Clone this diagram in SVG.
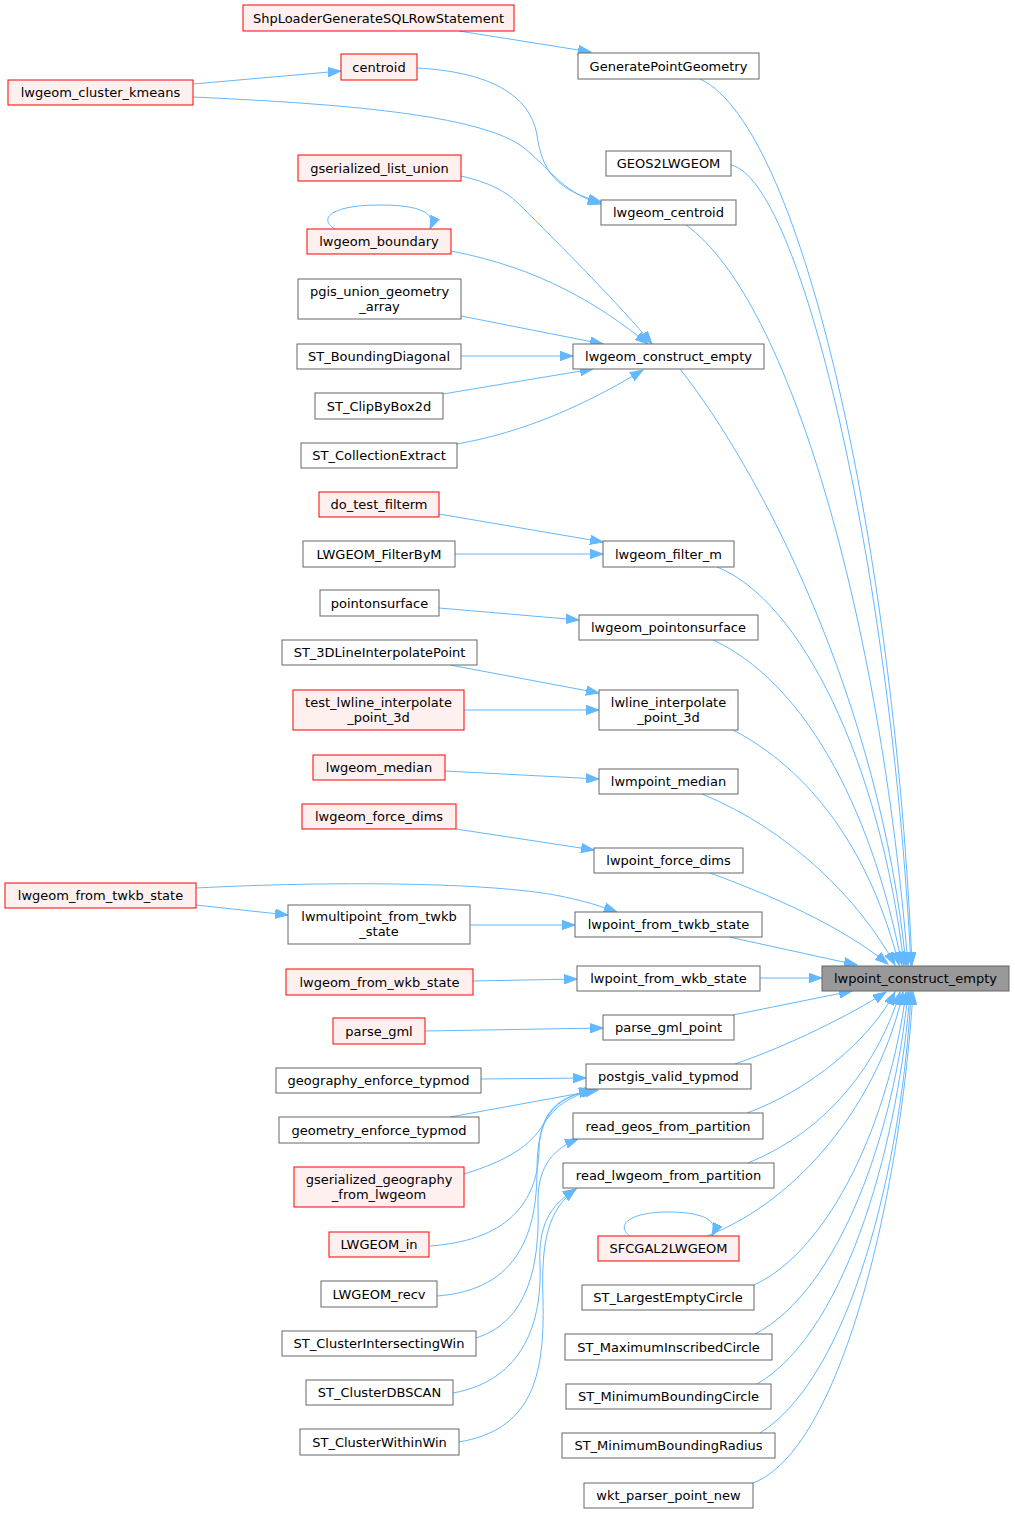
<svg xmlns="http://www.w3.org/2000/svg" width="1015" height="1513" viewBox="0 0 1015 1513">
<style>
rect{stroke-width:1}
.n rect{fill:#ffffff;stroke:#666666}
.r rect{fill:#fff0f0;stroke:#ff0000}
.root rect{fill:#999999;stroke:#666666}
text{font-family:"DejaVu Sans","Liberation Sans",sans-serif;font-size:13px;fill:#000000;text-anchor:middle}
#edges path{fill:none;stroke:#63b8ff;stroke-width:1;marker-end:url(#arr)}
</style>
<defs>
<marker id="arr" markerWidth="14" markerHeight="10" refX="13" refY="5" orient="auto" markerUnits="userSpaceOnUse">
<path d="M0,0.3 L13,5 L0,9.7 Z" fill="#63b8ff" stroke="#63b8ff" stroke-width="1"/>
</marker>
</defs>
<rect width="1015" height="1513" fill="#ffffff"/>
<g id="edges">
<path d="M459,31 L591,52"/>
<path d="M193,84 L341,71"/>
<path d="M193,97 C320,103 470,112 520,145 C548,165 560,192 601,204"/>
<path d="M417,68 C490,72 530,95 537,135 C542,170 555,190 601,202"/>
<path d="M461,176 C490,183 505,190 522,207 C560,245 620,305 652,344"/>
<path d="M335,229 C318,219 330,205 380,205 C420,205 437,213 430,229"/>
<path d="M451,251 C540,268 600,305 648,344"/>
<path d="M461,316 L603,344"/>
<path d="M461,356 L573,356"/>
<path d="M443,394 L593,369"/>
<path d="M457,444 C525,432 585,405 643,370"/>
<path d="M439,514 L603,542"/>
<path d="M455,554 L603,554"/>
<path d="M439,608 L579,620"/>
<path d="M450,665 L599,693"/>
<path d="M464,710 L599,710"/>
<path d="M445,771 L599,779"/>
<path d="M456,829 L594,850"/>
<path d="M196,888 C330,881 490,882 560,896 C585,901 600,906 617,912"/>
<path d="M196,905 L288,915"/>
<path d="M470,925 L575,925"/>
<path d="M473,981 L577,979"/>
<path d="M425,1031 L603,1028"/>
<path d="M481,1079 L586,1078"/>
<path d="M450,1117 L598,1090"/>
<path d="M464,1174 C510,1160 530,1145 543,1125 C553,1108 570,1095 595,1090"/>
<path d="M430,1246 C515,1240 538,1195 539,1150 C540,1110 560,1096 593,1090"/>
<path d="M437,1296 C520,1290 537,1230 537,1170 C537,1115 555,1098 592,1090"/>
<path d="M476,1338 C528,1322 540,1265 538,1205 C537,1170 550,1150 578,1139"/>
<path d="M453,1393 C525,1380 542,1320 540,1265 C538,1225 550,1205 576,1189"/>
<path d="M459,1442 C530,1430 545,1380 543,1300 C541,1240 548,1210 576,1189"/>
<path d="M630,1236 C615,1225 630,1212 668,1212 C702,1212 720,1220 712,1236"/>
<path d="M700,79 C805,128 895,560 912,965"/>
<path d="M731,165 C800,180 890,560 911,965"/>
<path d="M686,225 C790,300 880,620 908,965"/>
<path d="M680,369 C760,470 880,700 906,965"/>
<path d="M717,567 C800,600 880,760 904,965"/>
<path d="M713,640 C800,680 870,800 902,965"/>
<path d="M733,730 C810,770 870,850 899,965"/>
<path d="M702,794 C790,830 860,900 895,965"/>
<path d="M710,873 C770,895 840,925 888,964"/>
<path d="M729,937 L857,965"/>
<path d="M760,978 L822,978"/>
<path d="M733,1015 L852,991"/>
<path d="M735,1064 C790,1045 850,1015 886,992"/>
<path d="M747,1113 C810,1090 870,1040 895,992"/>
<path d="M748,1163 C830,1130 880,1060 900,992"/>
<path d="M707,1236 C800,1200 880,1100 903,992"/>
<path d="M754,1285 C830,1250 890,1120 906,992"/>
<path d="M755,1334 C840,1290 895,1130 908,992"/>
<path d="M757,1384 C850,1330 900,1130 910,992"/>
<path d="M760,1433 C860,1370 905,1130 911,992"/>
<path d="M753,1483 C840,1450 900,1200 913,992"/>
</g>
<g id="n_shp" class="r"><rect x="243" y="5" width="271" height="26"/><text x="378.5" y="22.5">ShpLoaderGenerateSQLRowStatement</text></g>
<g id="n_centroid" class="r"><rect x="341" y="54" width="76" height="26"/><text x="379" y="71.5">centroid</text></g>
<g id="n_kmeans" class="r"><rect x="8" y="80" width="185" height="25"/><text x="100.5" y="97">lwgeom_cluster_kmeans</text></g>
<g id="n_gsunion" class="r"><rect x="298" y="155" width="163" height="26"/><text x="379.5" y="172.5">gserialized_list_union</text></g>
<g id="n_boundary" class="r"><rect x="307" y="229" width="144" height="25"/><text x="379" y="246">lwgeom_boundary</text></g>
<g id="n_pgis" class="n"><rect x="298" y="279" width="163" height="40"/><text x="379.5" y="295.5">pgis_union_geometry</text><text x="379.5" y="310.5">_array</text></g>
<g id="n_bdiag" class="n"><rect x="297" y="344" width="164" height="25"/><text x="379" y="361">ST_BoundingDiagonal</text></g>
<g id="n_clip" class="n"><rect x="315" y="393" width="128" height="26"/><text x="379" y="410.5">ST_ClipByBox2d</text></g>
<g id="n_collext" class="n"><rect x="301" y="443" width="156" height="25"/><text x="379" y="460">ST_CollectionExtract</text></g>
<g id="n_dotest" class="r"><rect x="319" y="492" width="120" height="25"/><text x="379" y="509">do_test_filterm</text></g>
<g id="n_filterbym" class="n"><rect x="303" y="541" width="152" height="26"/><text x="379" y="558.5">LWGEOM_FilterByM</text></g>
<g id="n_pos" class="n"><rect x="320" y="590" width="119" height="26"/><text x="379.5" y="607.5">pointonsurface</text></g>
<g id="n_3dlip" class="n"><rect x="282" y="640" width="195" height="25"/><text x="379.5" y="657">ST_3DLineInterpolatePoint</text></g>
<g id="n_testlw" class="r"><rect x="293" y="690" width="171" height="40"/><text x="378.5" y="706.5">test_lwline_interpolate</text><text x="378.5" y="721.5">_point_3d</text></g>
<g id="n_median" class="r"><rect x="313" y="755" width="132" height="25"/><text x="379" y="772">lwgeom_median</text></g>
<g id="n_forcedims" class="r"><rect x="302" y="804" width="154" height="25"/><text x="379" y="821">lwgeom_force_dims</text></g>
<g id="n_twkbstate" class="r"><rect x="5" y="883" width="191" height="25"/><text x="100.5" y="900">lwgeom_from_twkb_state</text></g>
<g id="n_multipt" class="n"><rect x="288" y="905" width="182" height="39"/><text x="379" y="921">lwmultipoint_from_twkb</text><text x="379" y="936">_state</text></g>
<g id="n_wkbstate" class="r"><rect x="286" y="969" width="187" height="26"/><text x="379.5" y="986.5">lwgeom_from_wkb_state</text></g>
<g id="n_parsegml" class="r"><rect x="333" y="1018" width="92" height="26"/><text x="379" y="1035.5">parse_gml</text></g>
<g id="n_geogtyp" class="n"><rect x="276" y="1068" width="205" height="25"/><text x="378.5" y="1085">geography_enforce_typmod</text></g>
<g id="n_geomtyp" class="n"><rect x="279" y="1117" width="200" height="26"/><text x="379" y="1134.5">geometry_enforce_typmod</text></g>
<g id="n_gsgeog" class="r"><rect x="294" y="1167" width="170" height="40"/><text x="379" y="1183.5">gserialized_geography</text><text x="379" y="1198.5">_from_lwgeom</text></g>
<g id="n_lwin" class="r"><rect x="329" y="1232" width="100" height="25"/><text x="379" y="1249">LWGEOM_in</text></g>
<g id="n_lwrecv" class="n"><rect x="321" y="1281" width="116" height="26"/><text x="379" y="1298.5">LWGEOM_recv</text></g>
<g id="n_clint" class="n"><rect x="282" y="1331" width="194" height="25"/><text x="379" y="1348">ST_ClusterIntersectingWin</text></g>
<g id="n_dbscan" class="n"><rect x="306" y="1380" width="147" height="25"/><text x="379.5" y="1397">ST_ClusterDBSCAN</text></g>
<g id="n_clwithin" class="n"><rect x="300" y="1429" width="159" height="26"/><text x="379.5" y="1446.5">ST_ClusterWithinWin</text></g>
<g id="n_gpg" class="n"><rect x="578" y="53" width="181" height="26"/><text x="668.5" y="70.5">GeneratePointGeometry</text></g>
<g id="n_geos2" class="n"><rect x="606" y="151" width="125" height="25"/><text x="668.5" y="168">GEOS2LWGEOM</text></g>
<g id="n_lwcentroid" class="n"><rect x="601" y="200" width="135" height="25"/><text x="668.5" y="217">lwgeom_centroid</text></g>
<g id="n_constr" class="n"><rect x="573" y="344" width="191" height="25"/><text x="668.5" y="361">lwgeom_construct_empty</text></g>
<g id="n_filterm" class="n"><rect x="603" y="541" width="131" height="26"/><text x="668.5" y="558.5">lwgeom_filter_m</text></g>
<g id="n_lwpos" class="n"><rect x="579" y="615" width="179" height="25"/><text x="668.5" y="632">lwgeom_pointonsurface</text></g>
<g id="n_lwline" class="n"><rect x="599" y="690" width="139" height="40"/><text x="668.5" y="706.5">lwline_interpolate</text><text x="668.5" y="721.5">_point_3d</text></g>
<g id="n_lwmpmed" class="n"><rect x="599" y="769" width="139" height="25"/><text x="668.5" y="786">lwmpoint_median</text></g>
<g id="n_lwpfd" class="n"><rect x="594" y="848" width="149" height="25"/><text x="668.5" y="865">lwpoint_force_dims</text></g>
<g id="n_lwptwkb" class="n"><rect x="575" y="912" width="187" height="25"/><text x="668.5" y="929">lwpoint_from_twkb_state</text></g>
<g id="n_lwpwkb" class="n"><rect x="577" y="966" width="183" height="25"/><text x="668.5" y="983">lwpoint_from_wkb_state</text></g>
<g id="n_pgmlpt" class="n"><rect x="603" y="1015" width="131" height="25"/><text x="668.5" y="1032">parse_gml_point</text></g>
<g id="n_pvt" class="n"><rect x="586" y="1064" width="165" height="25"/><text x="668.5" y="1081">postgis_valid_typmod</text></g>
<g id="n_rgeos" class="n"><rect x="573" y="1113" width="190" height="26"/><text x="668" y="1130.5">read_geos_from_partition</text></g>
<g id="n_rlwgeom" class="n"><rect x="563" y="1163" width="211" height="25"/><text x="668.5" y="1180">read_lwgeom_from_partition</text></g>
<g id="n_sfcgal" class="r"><rect x="598" y="1236" width="141" height="25"/><text x="668.5" y="1253">SFCGAL2LWGEOM</text></g>
<g id="n_lec" class="n"><rect x="582" y="1285" width="172" height="25"/><text x="668" y="1302">ST_LargestEmptyCircle</text></g>
<g id="n_mic" class="n"><rect x="565" y="1334" width="207" height="26"/><text x="668.5" y="1351.5">ST_MaximumInscribedCircle</text></g>
<g id="n_mbc" class="n"><rect x="566" y="1384" width="205" height="25"/><text x="668.5" y="1401">ST_MinimumBoundingCircle</text></g>
<g id="n_mbr" class="n"><rect x="562" y="1433" width="213" height="25"/><text x="668.5" y="1450">ST_MinimumBoundingRadius</text></g>
<g id="n_wkt" class="n"><rect x="584" y="1483" width="169" height="25"/><text x="668.5" y="1500">wkt_parser_point_new</text></g>
<g id="n_root" class="root"><rect x="822" y="966" width="187" height="25"/><text x="915.5" y="983">lwpoint_construct_empty</text></g>
</svg>
